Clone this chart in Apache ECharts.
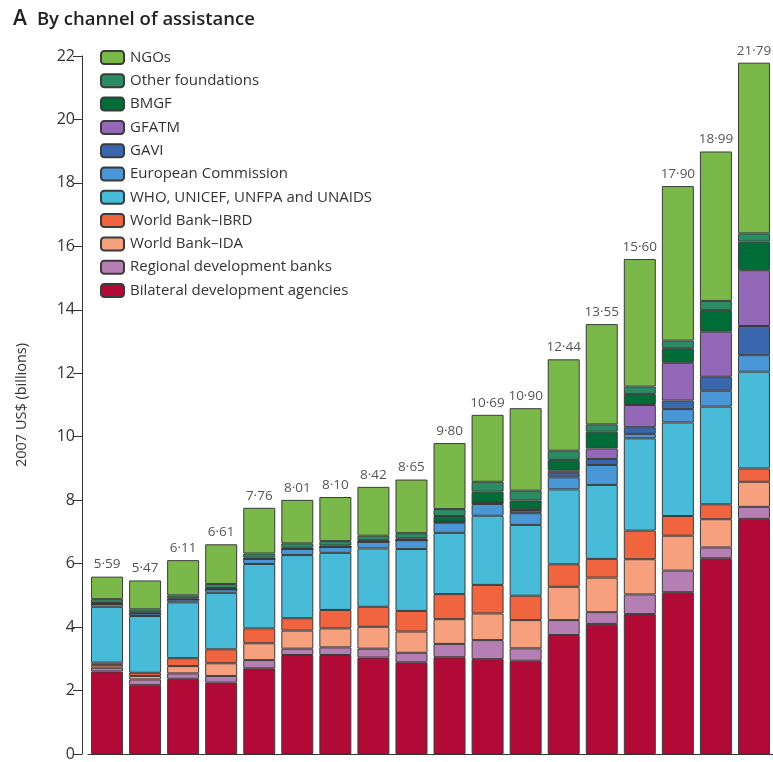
<!DOCTYPE html>
<html>
<head>
<meta charset="utf-8">
<script src="https://cdn.jsdelivr.net/npm/echarts@6/dist/echarts.min.js"></script>
<style>html,body{margin:0;padding:0;background:#fff}#c{width:773px;height:762px}</style>
</head>
<body>
<div id="c"></div>
<script>
const years = ['1990','1991','1992','1993','1994','1995','1996','1997','1998','1999','2000','2001','2002','2003','2004','2005','2006','2007'];
const bilateral = [2.60,2.17,2.37,2.25,2.70,3.12,3.12,3.04,2.89,3.05,2.99,2.94,3.75,4.10,4.41,5.10,6.17,7.41];
const regional  = [0.12,0.18,0.17,0.21,0.26,0.20,0.24,0.28,0.30,0.42,0.60,0.39,0.47,0.37,0.62,0.68,0.34,0.38];
const wbIDA     = [0.08,0.11,0.23,0.40,0.53,0.57,0.60,0.69,0.67,0.78,0.84,0.89,1.05,1.09,1.11,1.10,0.89,0.79];
const wbIBRD    = [0.08,0.10,0.25,0.44,0.47,0.39,0.58,0.63,0.65,0.79,0.90,0.77,0.71,0.59,0.90,0.62,0.47,0.42];
const who       = [1.76,1.79,1.76,1.78,2.03,1.99,1.80,1.84,1.95,1.93,2.18,2.23,2.36,2.33,2.91,2.95,3.08,3.05];
const ec        = [0.09,0.08,0.09,0.11,0.16,0.19,0.19,0.21,0.28,0.32,0.37,0.37,0.38,0.63,0.14,0.42,0.50,0.52];
const gavi      = [0,0,0,0,0,0,0,0,0,0.03,0.04,0.10,0.13,0.19,0.21,0.27,0.44,0.92];
const gfatm     = [0,0,0,0,0,0,0,0,0,0,0,0.02,0.08,0.33,0.70,1.19,1.42,1.76];
const bmgf      = [0.03,0.03,0.03,0.04,0.04,0.04,0.04,0.05,0.06,0.18,0.35,0.28,0.34,0.53,0.35,0.46,0.68,0.90];
const otherFnd  = [0.12,0.10,0.10,0.13,0.13,0.14,0.14,0.14,0.16,0.22,0.31,0.31,0.29,0.23,0.23,0.24,0.29,0.26];
const ngos      = [0.71,0.91,1.11,1.25,1.44,1.37,1.39,1.54,1.69,2.08,2.11,2.60,2.88,3.16,4.02,4.87,4.71,5.38];
const totalLabels = ['5·59','5·47','6·11','6·61','7·76','8·01','8·10','8·42','8·65','9·80','10·69','10·90','12·44','13·55','15·60','17·90','18·99','21·79'];
const yTicks = [0,2,4,6,8,10,12,14,16,18,20,22];

const seriesDefs = [
  ['Bilateral development agencies', bilateral, '#b20a36'],
  ['Regional development banks', regional, '#b67fb3'],
  ['World Bank–IDA', wbIDA, '#f6a07e'],
  ['World Bank–IBRD', wbIBRD, '#f0653f'],
  ['WHO, UNICEF, UNFPA and UNAIDS', who, '#47bbd7'],
  ['European Commission', ec, '#4a97d8'],
  ['GAVI', gavi, '#3a66ad'],
  ['GFATM', gfatm, '#9468b8'],
  ['BMGF', bmgf, '#006d38'],
  ['Other foundations', otherFnd, '#2b8c63'],
  ['NGOs', ngos, '#7bb84a']
];

const FONT = '"Open Sans", sans-serif';
const series = seriesDefs.map(([name, data, color], i) => ({
  name, type: 'bar', stack: 'total', data, barWidth: 32,
  itemStyle: { color, borderColor: '#3b3b3b', borderWidth: 1 },
  label: i === seriesDefs.length - 1 ? {
    show: true, position: 'top', distance: 5,
    formatter: p => totalLabels[p.dataIndex],
    color: '#555', fontFamily: FONT, fontSize: 13.5
  } : { show: false },
  emphasis: { disabled: true }
}));

const chart = echarts.init(document.getElementById('c'), null, { renderer: 'canvas' });
chart.setOption({
  animation: false,
  backgroundColor: '#fff',
  title: {
    text: '{a|A}  {b|By channel of assistance}',
    left: 8, top: 4,
    textStyle: {
      rich: {
        a: { fontFamily: FONT, fontSize: 21, color: '#222', fontWeight: 600 },
        b: { fontFamily: FONT, fontSize: 18.5, color: '#222', fontWeight: 600 }
      }
    }
  },
  legend: {
    orient: 'vertical', left: 95, top: 45,
    itemWidth: 23, itemHeight: 13, itemGap: 8.3,
    data: seriesDefs.map(s => s[0]).reverse(),
    textStyle: { fontFamily: FONT, fontSize: 15, lineHeight: 13, color: '#333', padding: [0,0,0,1] },
    selectedMode: false
  },
  grid: { left: 88, right: -3, top: 56, bottom: 8, containLabel: false },
  xAxis: {
    type: 'category', data: years,
    axisLine: { show: true, lineStyle: { color: '#333', width: 1 } },
    axisTick: { show: false }, axisLabel: { show: false }
  },
  yAxis: {
    type: 'value', min: yTicks[0], max: yTicks[yTicks.length - 1], interval: 2,
    offset: 6,
    name: '2007 US$ (billions)', nameLocation: 'middle', nameGap: 53, nameRotate: 90,
    nameTextStyle: { fontFamily: FONT, fontSize: 14.5, color: '#333' },
    axisLine: { show: true, lineStyle: { color: '#333', width: 1 } },
    axisTick: { show: true, inside: false, length: 9, lineStyle: { color: '#333' } },
    axisLabel: { fontFamily: FONT, fontSize: 16, color: '#333', margin: 7 },
    splitLine: { show: false }
  },
  series
});
</script>
</body>
</html>
